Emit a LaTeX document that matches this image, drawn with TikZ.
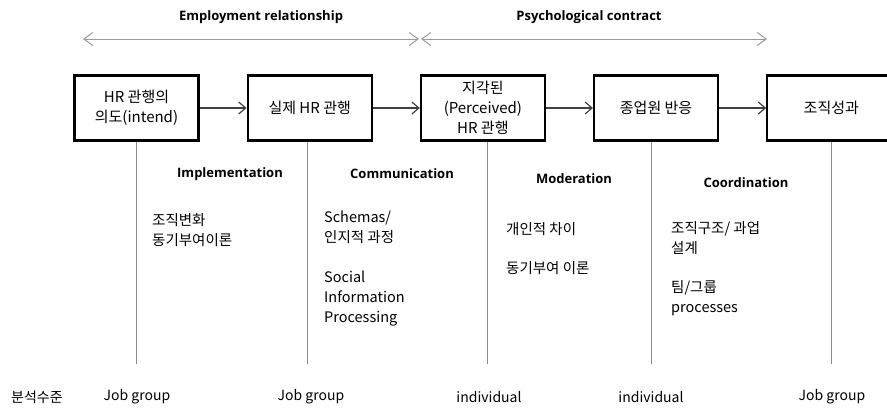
\documentclass[tikz,border=0pt]{standalone}
\usepackage{fontspec}
\setmainfont{Noto Sans CJK KR}
\newfontfamily\headfont{Open Sans}
\usepackage{tikz}
\usetikzlibrary{arrows.meta,positioning}
\definecolor{darkline}{HTML}{404040}
\definecolor{greyline}{HTML}{9A9A9A}
\definecolor{thinline}{HTML}{8C8C8C}
\tikzset{stage/.style={draw=black,line width=2.2pt,minimum width=124pt,minimum height=65pt,align=center,font=\fontsize{15}{20}\selectfont,inner sep=2pt},flow/.style={-{Straight Barb[length=7pt,width=12pt]},line width=1.2pt,draw=darkline},span/.style={{Straight Barb[length=9pt,width=13pt]}-{Straight Barb[length=9pt,width=13pt]},line width=1pt,draw=greyline},vline/.style={draw=thinline,line width=0.8pt},head/.style={font=\headfont\bfseries\fontsize{13}{16}\selectfont},body/.style={align=left,anchor=north west,font=\fontsize{14.5}{20}\selectfont,inner sep=0pt},level/.style={font=\fontsize{14}{16}\selectfont}}

\begin{document}
\begin{tikzpicture}[x=1pt,y=-1pt,node distance=47pt]
\useasboundingbox (0,0) rectangle (887,408);
\node[stage] (intend) at (136.5,108) {HR 관행의\\의도(intend)};
\node[stage,right=of intend] (actual) {실제 HR 관행};
\node[stage,right=of actual] (perceived) {지각된\\(Perceived)\\HR 관행};
\node[stage,right=of perceived] (reaction) {종업원 반응};
\node[stage,right=of reaction,minimum width=128pt] (perf) {조직성과};
\draw[flow] (intend)--(actual);\draw[flow] (actual)--(perceived);\draw[flow] (perceived)--(reaction);\draw[flow] (reaction)--(perf);
\coordinate (er-l) at (83,39);\coordinate (er-r) at (419,39);\coordinate (pc-l) at (421,39);\coordinate (pc-r) at (767,39);
\draw[span] (er-l)--(er-r);\draw[span] (pc-l)--(pc-r);
\node[head] (er) at (261,17) {Employment relationship};
\node[head] (pc) at (589,17) {Psychological contract};
\draw[vline] (intend.south)--++(0,222);\draw[vline] ([xshift=-2.5pt]actual.south)--++(0,222);\draw[vline] ([xshift=4.5pt]perceived.south)--++(0,222);\draw[vline] ([xshift=-5pt]reaction.south)--++(0,222);\draw[vline] (perf.south)--++(0,222);
\node[head] (impl) at (230,174) {Implementation};
\node[head] (comm) at (402,174) {Communication};
\node[head] (mod) at (574,179) {Moderation};
\node[head] (coord) at (746,183) {Coordination};
\node[body] (impl-t) at (152,213) {조직변화\\동기부여이론};
\node[body] (comm-t) at (324,211) {Schemas/\\인지적 과정\\[20pt]Social\\Information\\Processing};
\node[body] (mod-t) at (506,222) {개인적 차이\\[19pt]동기부여 이론};
\node[body] (coord-t) at (671,221) {조직구조/ 과업\\설계\\[19pt]팀/그룹\\processes};
\node[level] (lv0) at (37,397) {분석수준};
\node[level] (lv1) at (137,397) {Job group};
\node[level] (lv2) at (311,397) {Job group};
\node[level] (lv3) at (489,397) {individual};
\node[level] (lv4) at (651,397) {individual};
\node[level] (lv5) at (832,397) {Job group};
\end{tikzpicture}
\end{document}
